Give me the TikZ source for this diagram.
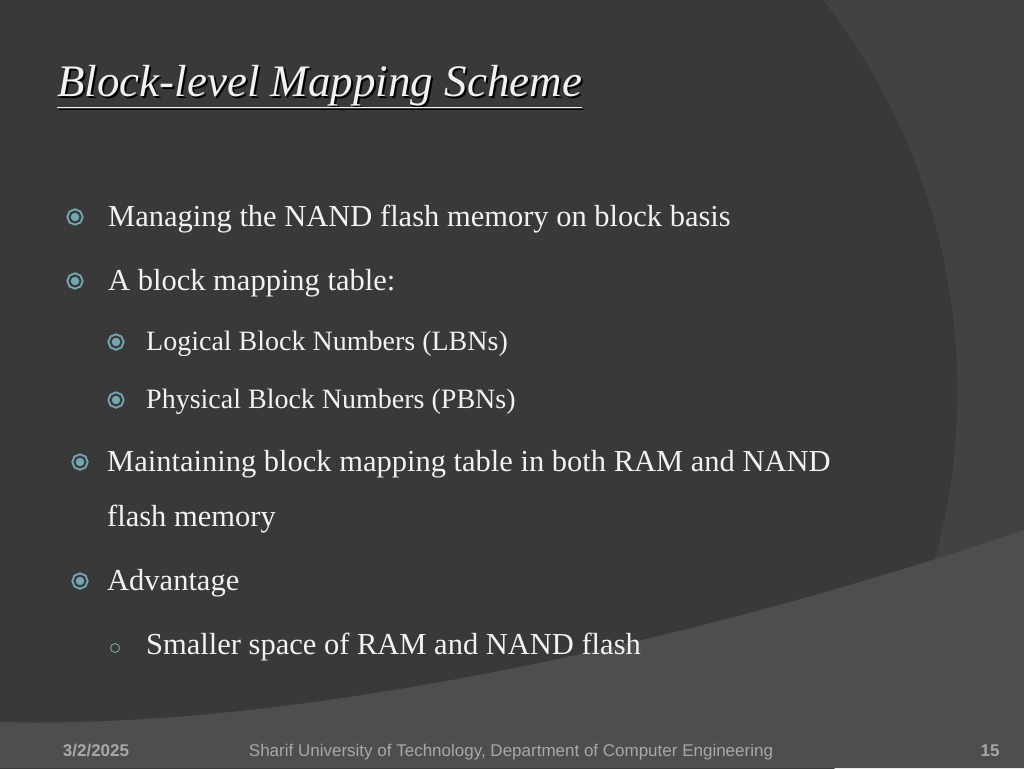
\documentclass[tikz,border=0pt]{standalone}
\usepackage{fontspec}
\setmainfont{Liberation Serif}
\setsansfont{Liberation Sans}
\usetikzlibrary{positioning}
\definecolor{bgdark}{HTML}{393939}
\definecolor{bgright}{HTML}{424242}
\definecolor{bgband}{HTML}{4E4E4E}
\definecolor{bul}{HTML}{74A6B4}
\definecolor{txt}{HTML}{F2F2F2}
\definecolor{foot}{HTML}{A8A8A8}
\tikzset{
    item/.style={anchor=base west,inner sep=0pt,text=txt,font=\fontsize{30.5}{32}\selectfont},
    subitem/.style={item,font=\fontsize{28}{30}\selectfont},
    bullet/.style={circle,inner sep=0pt,minimum size=11pt,fill=bul,draw=bul,
        double=bgdark,double distance=2pt,line width=2pt},
    hollow/.style={circle,inner sep=0pt,minimum size=9pt,draw=bul!80!gray,line width=0.9pt},
    footer/.style={anchor=base,inner sep=0pt,text=foot,font=\sffamily\fontsize{17}{19}\selectfont}
}
\begin{document}
\begin{tikzpicture}[x=1pt,y=-1pt]
    \useasboundingbox (0,0) rectangle (1024,768);
    % background
    \begin{scope}
    \clip (0,0) rectangle (1024,768);
    \fill[bgright] (0,0) rectangle (1024,768);
    \fill[bgdark] (321,391) circle (637);
    \fill[bgband] (0,722) .. controls (300,730) and (700,640) .. (1024,530)
        -- (1024,768) -- (0,768) -- cycle;
    \draw[black!70,line width=1pt,opacity=0.5] (321,391) circle (637);
    \end{scope}

    % title
    \node[anchor=base west,inner sep=0pt,text=black,
        font=\itshape\fontsize{45}{47}\selectfont] at (59,98)
        {\underline{Block-level Mapping Scheme}};
    \node[anchor=base west,inner sep=0pt,text=txt,
        font=\itshape\fontsize{45}{47}\selectfont] (title) at (57,96)
        {\underline{Block-level Mapping Scheme}};

    % items
    \node[item] (managing) at (108,226) {Managing the NAND flash memory on block basis};
    \node[item] (table) at (108,290) {A block mapping table:};
    \node[subitem] (lbn) at (146,350) {Logical Block Numbers (LBNs)};
    \node[subitem] (pbn) at (146,408) {Physical Block Numbers (PBNs)};
    \node[item] (maintain) at (107,471) {Maintaining block mapping table in both RAM and NAND};
    \node[item] (maintain2) at (107,526) {flash memory};
    \node[item] (advantage) at (107,590) {Advantage};
    \node[item] (smaller) at (146,654) {Smaller space of RAM and NAND flash};

    % bullets
    \node[bullet] (b1) at (75,217) {};
    \node[bullet] (b2) at (75,281) {};
    \node[bullet] (b3) at (116,342) {};
    \node[bullet] (b4) at (116,400) {};
    \node[bullet] (b5) at (80,462) {};
    \node[bullet] (b6) at (80,581) {};
    \node[hollow] (b7) at (115,648) {};

    % footer
    \node[footer,font=\sffamily\bfseries\fontsize{17}{19}\selectfont] (date) at (96,756) {3/2/2025};
    \node[footer] (school) at (511,756) {Sharif University of Technology, Department of Computer Engineering};
    \node[footer,font=\sffamily\bfseries\fontsize{17}{19}\selectfont] (page) at (990,756) {15};
\end{tikzpicture}
\end{document}
